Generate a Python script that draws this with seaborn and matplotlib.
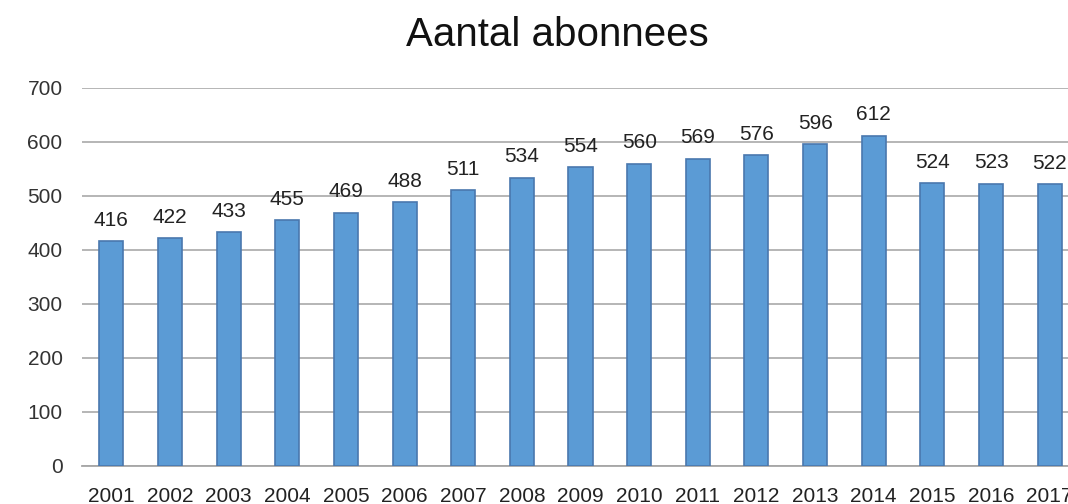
import pandas as pd
import seaborn as sns
import matplotlib.pyplot as plt

# ---------------------------
# Data
# ---------------------------
years = ["2001", "2002", "2003", "2004", "2005", "2006", "2007", "2008", "2009",
         "2010", "2011", "2012", "2013", "2014", "2015", "2016", "2017"]
abonnees = [416, 422, 433, 455, 469, 488, 511, 534, 554,
            560, 569, 576, 596, 612, 524, 523, 522]
y_ticks = [0, 100, 200, 300, 400, 500, 600, 700]

df = pd.DataFrame({"Jaar": years, "Abonnees": abonnees})

# ---------------------------
# Style
# ---------------------------
sns.set_style("white")
plt.rcParams["font.family"] = ["Liberation Sans", "DejaVu Sans"]

fig = plt.figure(figsize=(10.68, 5.04), dpi=100)
ax = fig.add_axes([0.0768, 0.0754, 0.9335, 0.75])

sns.barplot(data=df, x="Jaar", y="Abonnees", color="#5B9BD5", width=0.41,
            edgecolor="#4A78AE", linewidth=1.2, saturation=1, ax=ax, zorder=3)

# value labels above the bars
for i, v in enumerate(abonnees):
    ax.annotate(str(v), (i, v), xytext=(0, 11), textcoords="offset points",
                ha="center", va="baseline", fontsize=15, color="#222222")

ax.set_xlim(-0.5, len(years) - 0.5)
ax.set_ylim(0, 700)
ax.set_yticks(y_ticks)
ax.yaxis.grid(True, color="#B0B0B0", linewidth=1.3, zorder=0)
ax.set_axisbelow(True)

ax.set_xlabel("")
ax.set_ylabel("")
for side in ["left", "right", "top"]:
    ax.spines[side].set_visible(False)
ax.spines["bottom"].set_color("#A6A6A6")
ax.spines["bottom"].set_linewidth(1.3)

# x ticks sit between the categories
ax.set_xticks([i - 0.5 for i in range(len(years) + 1)], minor=True)
ax.tick_params(axis="x", which="minor", direction="inout", length=9,
               width=1.2, color="#A6A6A6")
ax.tick_params(axis="x", which="major", length=0, pad=15, labelsize=15,
               labelcolor="#222222")
ax.tick_params(axis="y", length=0, pad=14, labelsize=15, labelcolor="#333333")

fig.text(0.522, 0.909, "Aantal abonnees", ha="center", va="baseline",
         fontsize=29, color="#111111")

fig.savefig("out.png", dpi=100)
